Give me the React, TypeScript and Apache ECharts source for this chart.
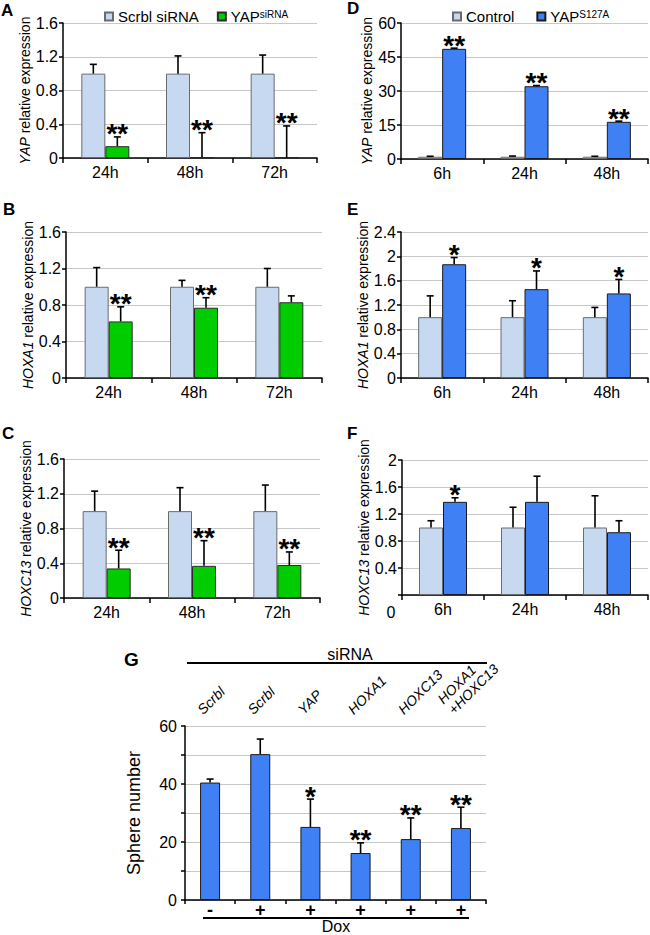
import React, { useEffect, useRef } from "react";
import * as echarts from "echarts";

const FONT = '"Liberation Sans", Arial, sans-serif';

// ---------- data ----------
const timeAC = ["24h", "48h", "72h"];
const timeDF = ["6h", "24h", "48h"];

const aScrbl = [1, 1, 1];
const aScrblErr = [0.11, 0.21, 0.22];
const aYap = [0.14, 0.01, 0.005];
const aYapErr = [0.11, 0.29, 0.375];
const aStars = ["**", "**", "**"];

const bScrbl = [1, 1, 1];
const bScrblErr = [0.21, 0.07, 0.2];
const bYap = [0.62, 0.77, 0.83];
const bYapErr = [0.16, 0.11, 0.07];
const bStars = ["**", "**", ""];

const cScrbl = [1, 1, 1];
const cScrblErr = [0.23, 0.27, 0.3];
const cYap = [0.34, 0.37, 0.38];
const cYapErr = [0.21, 0.29, 0.15];
const cStars = ["**", "**", "**"];

const dCtrl = [1, 1, 1];
const dCtrlErr = [0.2, 0.3, 0.2];
const dYap = [48.6, 32.1, 16.4];
const dYapErr = [0.3, 0.3, 0.3];
const dStars = ["**", "**", "**"];

const eCtrl = [1, 1, 1];
const eCtrlErr = [0.35, 0.27, 0.16];
const eYap = [1.87, 1.46, 1.39];
const eYapErr = [0.11, 0.3, 0.23];
const eStars = ["*", "*", "*"];

const fCtrl = [1, 1, 1];
const fCtrlErr = [0.1, 0.3, 0.47];
const fYap = [1.38, 1.38, 0.93];
const fYapErr = [0.06, 0.38, 0.17];
const fStars = ["*", "", ""];

const gSiRNA = ["Scrbl", "Scrbl", "YAP", "HOXA1", "HOXC13", "HOXA1\n+HOXC13"];
const gDox = ["-", "+", "+", "+", "+", "+"];
const gSpheres = [40.5, 50.3, 25.2, 16.2, 21, 24.8];
const gSpheresErr = [1.2, 5.2, 9.6, 3.5, 7.3, 7.2];
const gStars = ["", "", "*", "**", "**", "**"];

// ---------- styles ----------
const LIGHT = "#C6D9F0";
const LIGHT_BORDER = "#6b6b6b";
const GREEN = "#00CC00";
const GREEN_BORDER = "#2a2a2a";
const BLUE = "#4080F5";
const BLUE_BORDER = "#1a1a1a";
const GRIDLINE = "#c8c8c8";

const fmt1 = (v: number) => String(Math.round(v * 10) / 10);

function errSeries(
  idx: number,
  vals: number[],
  errs: number[],
  stars: string[] | null,
  sign: number,
  halfBar: number
) {
  const items = vals.map((v, k) => ({ cat: k, v, e: errs[k], s: stars ? stars[k] : "" }));
  return {
    type: "custom",
    xAxisIndex: idx,
    yAxisIndex: idx,
    silent: true,
    z: 5,
    clip: false,
    data: items.map((it) => [it.cat, it.v + it.e]),
    encode: { x: 0, y: 1 },
    renderItem: (params: any, api: any) => {
      const it = items[params.dataIndex];
      const b = api.coord([it.cat, it.v]);
      const t = api.coord([it.cat, it.v + it.e]);
      const x = b[0] + sign * halfBar;
      const children: any[] = [
        { type: "line", shape: { x1: x, y1: b[1], x2: x, y2: t[1] }, style: { stroke: "#000", lineWidth: 1.6 } },
        { type: "line", shape: { x1: x - 3.5, y1: t[1], x2: x + 3.5, y2: t[1] }, style: { stroke: "#000", lineWidth: 1.6 } },
      ];
      if (it.s) {
        children.push({
          type: "text",
          x,
          y: t[1] + 11,
          style: {
            text: it.s,
            fontSize: 28,
            fontWeight: "bold",
            fontFamily: FONT,
            fill: "#000",
            align: "center",
            verticalAlign: "bottom",
          },
        });
      }
      return { type: "group", children };
    },
  };
}

interface Panel {
  grid: { left: number; top: number; width: number; height: number };
  cats: string[];
  yMax: number;
  yInterval: number;
  yName: string;
  nameGap: number;
  hideZero?: boolean;
  s1: { name: string; data: number[]; err: number[]; color: string; border: string };
  s2: { name: string; data: number[]; err: number[]; stars: string[]; color: string; border: string };
}

const panels: Panel[] = [
  {
    grid: { left: 63, top: 23, width: 254, height: 135 },
    cats: timeAC, yMax: 1.6, yInterval: 0.4, yName: "{i|YAP} relative expression", nameGap: 22,
    s1: { name: "Scrbl siRNA", data: aScrbl, err: aScrblErr, color: LIGHT, border: LIGHT_BORDER },
    s2: { name: "YAP siRNA", data: aYap, err: aYapErr, stars: aStars, color: GREEN, border: GREEN_BORDER },
  },
  {
    grid: { left: 66, top: 232, width: 256, height: 146 },
    cats: timeAC, yMax: 1.6, yInterval: 0.4, yName: "{i|HOXA1} relative expression", nameGap: 23,
    s1: { name: "Scrbl siRNA", data: bScrbl, err: bScrblErr, color: LIGHT, border: LIGHT_BORDER },
    s2: { name: "YAP siRNA", data: bYap, err: bYapErr, stars: bStars, color: GREEN, border: GREEN_BORDER },
  },
  {
    grid: { left: 64, top: 459, width: 256, height: 139 },
    cats: timeAC, yMax: 1.6, yInterval: 0.4, yName: "{i|HOXC13} relative expression", nameGap: 21,
    s1: { name: "Scrbl siRNA", data: cScrbl, err: cScrblErr, color: LIGHT, border: LIGHT_BORDER },
    s2: { name: "YAP siRNA", data: cYap, err: cYapErr, stars: cStars, color: GREEN, border: GREEN_BORDER },
  },
  {
    grid: { left: 401, top: 23, width: 247, height: 136 },
    cats: timeDF, yMax: 60, yInterval: 15, yName: "{i|YAP} relative expression", nameGap: 24,
    s1: { name: "Control", data: dCtrl, err: dCtrlErr, color: LIGHT, border: LIGHT_BORDER },
    s2: { name: "YAP S127A", data: dYap, err: dYapErr, stars: dStars, color: BLUE, border: BLUE_BORDER },
  },
  {
    grid: { left: 401, top: 232, width: 247, height: 146 },
    cats: timeDF, yMax: 2.4, yInterval: 0.4, yName: "{i|HOXA1} relative expression", nameGap: 22,
    s1: { name: "Control", data: eCtrl, err: eCtrlErr, color: LIGHT, border: LIGHT_BORDER },
    s2: { name: "YAP S127A", data: eYap, err: eYapErr, stars: eStars, color: BLUE, border: BLUE_BORDER },
  },
  {
    grid: { left: 402, top: 460, width: 246, height: 135 },
    cats: timeDF, yMax: 2, yInterval: 0.4, yName: "{i|HOXC13} relative expression", nameGap: 22, hideZero: true,
    s1: { name: "Control", data: fCtrl, err: fCtrlErr, color: LIGHT, border: LIGHT_BORDER },
    s2: { name: "YAP S127A", data: fYap, err: fYapErr, stars: fStars, color: BLUE, border: BLUE_BORDER },
  },
];

function buildOption() {
  const grids: any[] = [];
  const xAxes: any[] = [];
  const yAxes: any[] = [];
  const series: any[] = [];
  const axisLine = { show: true, lineStyle: { color: "#000", width: 1.5 } };

  panels.forEach((p, i) => {
    grids.push({ ...p.grid, containLabel: false });
    xAxes.push({
      type: "category",
      gridIndex: i,
      data: p.cats,
      axisLine,
      axisTick: { show: true, length: 5, lineStyle: { color: "#000", width: 1.5 } },
      axisLabel: { fontSize: 16, color: "#000", fontFamily: FONT, margin: 6 },
    });
    yAxes.push({
      type: "value",
      gridIndex: i,
      min: 0,
      max: p.yMax,
      interval: p.yInterval,
      name: p.yName,
      nameLocation: "middle",
      nameGap: p.nameGap,
      nameTextStyle: {
        fontSize: 14,
        color: "#000",
        fontFamily: FONT,
        rich: { i: { fontStyle: "italic", fontSize: 14, color: "#000", fontFamily: FONT } },
      },
      axisLine,
      axisTick: { show: true, length: 4, lineStyle: { color: "#000", width: 1.5 } },
      axisLabel: {
        fontSize: 16,
        color: "#000",
        fontFamily: FONT,
        margin: 5,
        formatter: (v: number) => (p.hideZero && v === 0 ? "" : fmt1(v)),
      },
      splitLine: { show: true, lineStyle: { color: GRIDLINE, width: 1 } },
    });
    series.push({
      type: "bar",
      name: p.s1.name,
      xAxisIndex: i,
      yAxisIndex: i,
      data: p.s1.data,
      barWidth: 24,
      barGap: "0%",
      itemStyle: { color: p.s1.color, borderColor: p.s1.border, borderWidth: 1 },
    });
    series.push({
      type: "bar",
      name: p.s2.name,
      xAxisIndex: i,
      yAxisIndex: i,
      data: p.s2.data,
      barWidth: 24,
      barGap: "0%",
      itemStyle: { color: p.s2.color, borderColor: p.s2.border, borderWidth: 1 },
    });
    series.push(errSeries(i, p.s1.data, p.s1.err, null, -1, 12));
    series.push(errSeries(i, p.s2.data, p.s2.err, p.s2.stars, 1, 12));
  });

  // Panel G
  const gi = 6;
  const gMax = 60;
  grids.push({ left: 185, top: 726, width: 301, height: 174, containLabel: false });
  xAxes.push({
    type: "category",
    gridIndex: gi,
    data: gDox,
    axisLine,
    axisTick: { show: true, length: 4, lineStyle: { color: "#000", width: 1.5 } },
    axisLabel: { fontSize: 18, fontWeight: "bold", color: "#000", fontFamily: FONT, margin: 1 },
  });
  yAxes.push({
    type: "value",
    gridIndex: gi,
    min: 0,
    max: gMax,
    interval: 10,
    name: "Sphere number",
    nameLocation: "middle",
    nameGap: 42,
    nameTextStyle: { fontSize: 18, color: "#000", fontFamily: FONT },
    axisLine,
    axisTick: { show: true, length: 4, lineStyle: { color: "#000", width: 1.5 } },
    axisLabel: {
      fontSize: 16,
      color: "#000",
      fontFamily: FONT,
      margin: 8,
      formatter: (v: number) => (v % 20 === 0 ? String(v) : ""),
    },
    splitLine: { show: true, lineStyle: { color: GRIDLINE, width: 1 } },
  });
  series.push({
    type: "bar",
    name: "Sphere number",
    xAxisIndex: gi,
    yAxisIndex: gi,
    data: gSpheres,
    barWidth: 20,
    itemStyle: { color: BLUE, borderColor: BLUE_BORDER, borderWidth: 1 },
  });
  series.push(errSeries(gi, gSpheres, gSpheresErr, gStars, 0, 0));
  // rotated siRNA condition labels above panel G, placed through the category axis
  series.push({
    type: "custom",
    xAxisIndex: gi,
    yAxisIndex: gi,
    silent: true,
    clip: false,
    data: gSiRNA.map((_, k) => [k, gMax]),
    encode: { x: 0, y: 1 },
    renderItem: (params: any, api: any) => {
      const k = params.dataIndex;
      const pt = api.coord([k, gMax]);
      return {
        type: "text",
        x: pt[0] - 5,
        y: pt[1] - 9,
        rotation: Math.PI / 4,
        style: {
          text: gSiRNA[k],
          fontSize: 14,
          fontStyle: "italic",
          fontFamily: FONT,
          fill: "#000",
          align: "left",
          verticalAlign: "bottom",
          lineHeight: 15,
        },
      };
    },
  });

  const legendText = {
    fontSize: 15,
    color: "#000",
    fontFamily: FONT,
    rich: { sup: { fontSize: 10, verticalAlign: "top", color: "#000", fontFamily: FONT } },
  };

  const letter = (t: string, x: number, y: number, size = 17) => ({
    type: "text",
    x,
    y,
    style: { text: t, fontSize: size, fontWeight: "bold", fontFamily: FONT, fill: "#000", align: "left", verticalAlign: "middle" },
  });

  return {
    animation: false,
    backgroundColor: "#fff",
    textStyle: { fontFamily: FONT, color: "#000" },
    grid: grids,
    xAxis: xAxes,
    yAxis: yAxes,
    series,
    legend: [
      {
        left: 99,
        top: 4,
        data: ["Scrbl siRNA", "YAP siRNA"],
        icon: "rect",
        itemWidth: 8,
        itemHeight: 8,
        itemGap: 18,
        selectedMode: false,
        textStyle: legendText,
        formatter: (n: string) => (n === "YAP siRNA" ? "YAP{sup|siRNA}" : n),
      },
      {
        left: 447,
        top: 4,
        data: ["Control", "YAP S127A"],
        icon: "rect",
        itemWidth: 8,
        itemHeight: 8,
        itemGap: 22,
        selectedMode: false,
        textStyle: legendText,
        formatter: (n: string) => (n === "YAP S127A" ? "YAP{sup|S127A}" : n),
      },
    ],
    graphic: [
      letter("A", 1, 10),
      letter("B", 3, 209),
      letter("C", 2, 433),
      letter("D", 347, 8),
      letter("E", 347, 209),
      letter("F", 347, 433),
      letter("G", 124, 659, 19),
      {
        type: "text",
        x: 391,
        y: 612,
        style: { text: "0", fontSize: 16, fontFamily: FONT, fill: "#000", align: "center", verticalAlign: "middle" },
      },
      {
        type: "text",
        x: 350,
        y: 654,
        style: { text: "siRNA", fontSize: 16, fontFamily: FONT, fill: "#000", align: "center", verticalAlign: "middle" },
      },
      { type: "line", shape: { x1: 187, y1: 663, x2: 487, y2: 663 }, style: { stroke: "#000", lineWidth: 2 } },
      { type: "line", shape: { x1: 203, y1: 918, x2: 469, y2: 918 }, style: { stroke: "#000", lineWidth: 2 } },
      {
        type: "text",
        x: 336,
        y: 926,
        style: { text: "Dox", fontSize: 16, fontFamily: FONT, fill: "#000", align: "center", verticalAlign: "middle" },
      },
    ],
  };
}

export default function App() {
  const ref = useRef<HTMLDivElement>(null);
  useEffect(() => {
    if (!ref.current) return;
    const chart = echarts.init(ref.current, null, { renderer: "svg" });
    chart.setOption(buildOption() as any);
    return () => chart.dispose();
  }, []);
  return (
    <div
      ref={ref}
      style={{ position: "absolute", left: 0, top: 0, width: 650, height: 935, background: "#fff" }}
    />
  );
}
